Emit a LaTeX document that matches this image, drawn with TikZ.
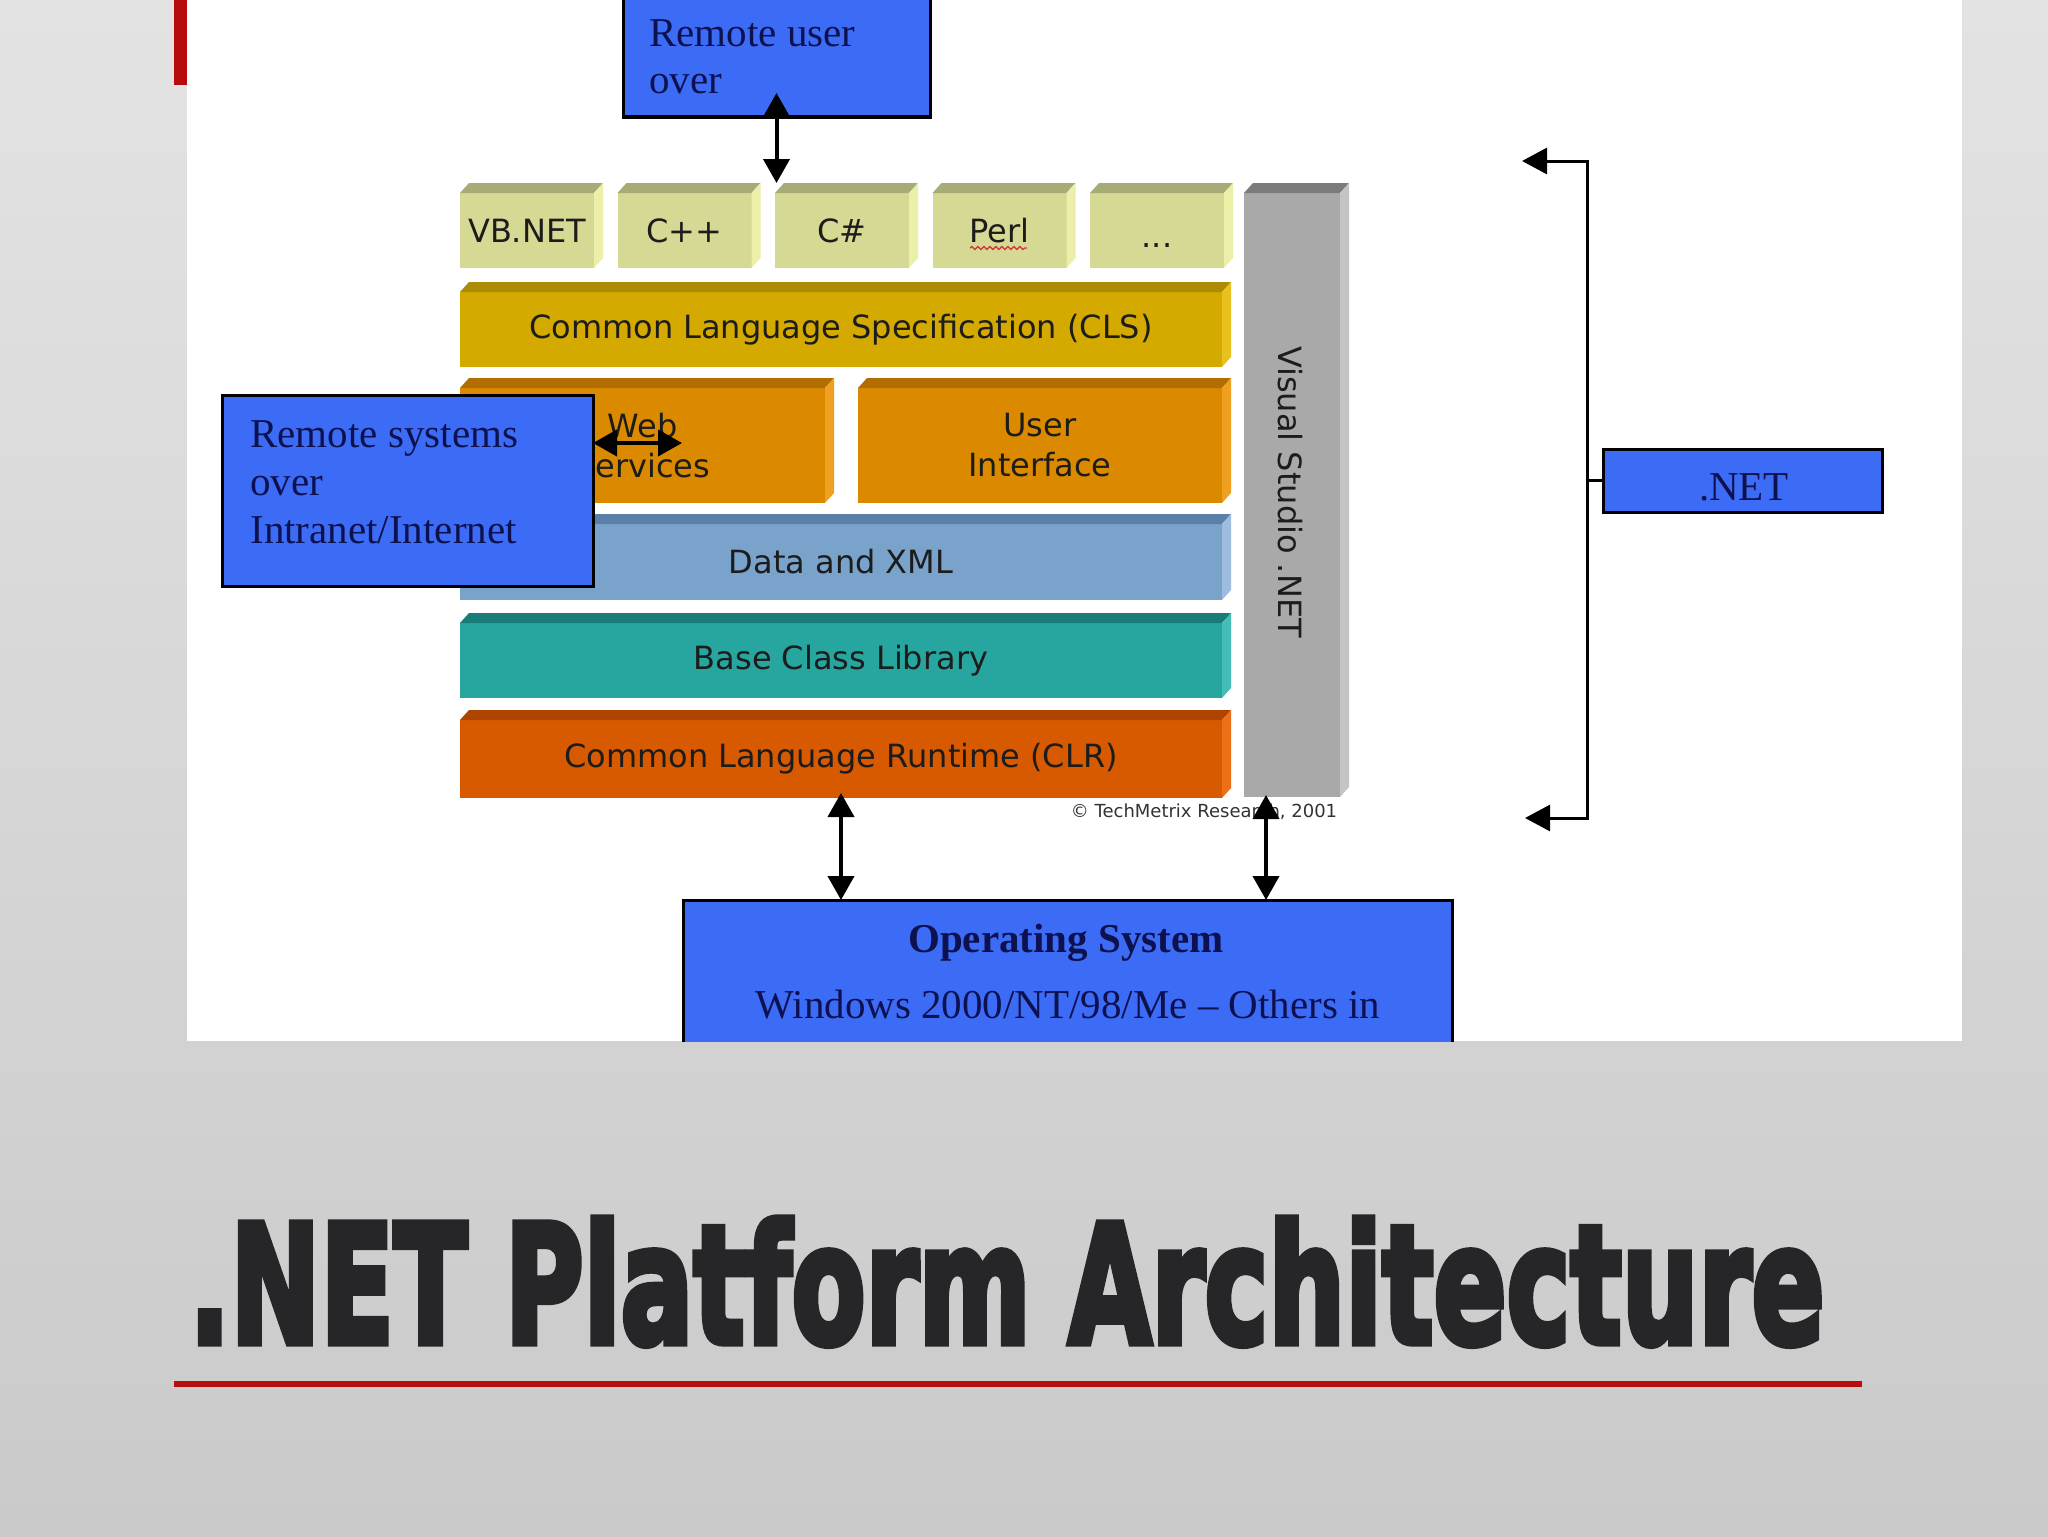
\documentclass[tikz,border=0pt]{standalone}
\usepackage{graphicx}
\usepackage{fontspec}
\setmainfont{Liberation Serif}
\newfontfamily\stackfont{DejaVu Sans}
\newfontfamily\titlefont[FakeBold=4.5]{DejaVu Sans Bold}
\usetikzlibrary{arrows.meta,calc,decorations.pathmorphing}
\definecolor{bgtop}{HTML}{E3E3E3}
\definecolor{bgbot}{HTML}{CACACA}
\definecolor{accentred}{HTML}{B80C0C}
\definecolor{boxblue}{HTML}{3C6CF5}
\definecolor{navytext}{HTML}{0E1150}
\definecolor{stacktext}{HTML}{1C1C1C}
\definecolor{copytext}{HTML}{333333}
\definecolor{titlegray}{HTML}{262628}
\definecolor{langfront}{HTML}{D6D994}
\definecolor{langtop}{HTML}{A7AB76}
\definecolor{langside}{HTML}{ECEFA8}
\definecolor{clsfront}{HTML}{D4A900}
\definecolor{clstop}{HTML}{AE8B06}
\definecolor{clsside}{HTML}{E8C020}
\definecolor{orgfront}{HTML}{DB8A00}
\definecolor{orgtop}{HTML}{B26E00}
\definecolor{orgside}{HTML}{EFA020}
\definecolor{xmlfront}{HTML}{7AA3CC}
\definecolor{xmltop}{HTML}{5A7FA8}
\definecolor{xmlside}{HTML}{9DBCDE}
\definecolor{bclfront}{HTML}{27A6A0}
\definecolor{bcltop}{HTML}{1A7C78}
\definecolor{bclside}{HTML}{45BDB7}
\definecolor{clrfront}{HTML}{D85A00}
\definecolor{clrtop}{HTML}{AE4400}
\definecolor{clrside}{HTML}{EC7018}
\definecolor{vsfront}{HTML}{A9A9A9}
\definecolor{vstop}{HTML}{7C7C7C}
\definecolor{vsside}{HTML}{C4C4C4}
\definecolor{squig}{HTML}{D23C3C}
\newcommand\slabfaces[3]{%
  \fill[#2] (#1.north west) -- ++(9,-10) -- ($(#1.north east)+(9,-10)$) -- (#1.north east) -- cycle;
  \fill[#3] (#1.north east) -- ++(9,-10) -- ($(#1.south east)+(9,-10)$) -- (#1.south east) -- cycle;
}
\tikzset{
  face/.style={rectangle, inner sep=0pt, outer sep=0pt, align=center, text=stacktext,
    font=\stackfont\fontsize{16pt}{20pt}\selectfont},
  langsz/.style={minimum width=67pt, minimum height=37.5pt, text height=11.7pt, text depth=0pt},
  widesz/.style={minimum width=381pt},
  bluebox/.style={rectangle, draw=black, line width=1.5pt, fill=boxblue, inner sep=0pt, outer sep=0pt},
  serifline/.style={inner sep=0pt, text=navytext, font=\fontsize{20.5pt}{24pt}\selectfont},
  dblarrow/.style={line width=2pt, {Triangle[length=12pt,width=13pt]}-{Triangle[length=12pt,width=13pt]}},
  brarrow/.style={line width=1.5pt, -{Triangle[length=12.5pt,width=13pt]}},
}
\begin{document}
\begin{tikzpicture}[x=0.5pt,y=-0.5pt]
\useasboundingbox (0,0) rectangle (2048,1536);
\shade[top color=bgtop,bottom color=bgbot] (0,0) rectangle (2048,1536);
\fill[white] (187,0) rectangle (1962,1041);
\fill[accentred] (174,0) rectangle (187,85);
\fill[accentred] (174,1381) rectangle (1862,1387);
\begin{scope}
\clip (187,0) rectangle (1962,1041);
% language boxes
\node[face, langsz, fill=langfront] (vb) at (527,230.5) {VB.NET};
\node[face, langsz, fill=langfront] (cpp) at (684.5,230.5) {C++};
\node[face, langsz, fill=langfront] (cs) at (842,230.5) {C\#};
\node[face, langsz, fill=langfront] (perl) at (999.5,230.5) {Perl};
\node[face, langsz, fill=langfront, text height=17.2pt] (dots) at (1157,230.5) {...};
\foreach \n in {vb,cpp,cs,perl,dots}{\slabfaces{\n}{langtop}{langside}}
\draw[squig, line width=0.7pt, decorate, decoration={snake, segment length=3pt, amplitude=0.7pt}] (970,248) -- (1027,248);
% layers
\node[face, widesz, minimum height=37.5pt, fill=clsfront] (cls) at (841,329.5) {Common Language Specification (CLS)};
\slabfaces{cls}{clstop}{clsside}
\node[face, minimum width=182.5pt, minimum height=57.5pt, fill=orgfront] (web) at (642.5,445.5) {Web\\Services};
\slabfaces{web}{orgtop}{orgside}
\node[face, minimum width=182pt, minimum height=57.5pt, fill=orgfront] (ui) at (1040,445.5) {User\\Interface};
\slabfaces{ui}{orgtop}{orgside}
\node[face, widesz, minimum height=38pt, fill=xmlfront] (xml) at (841,562) {Data and XML};
\slabfaces{xml}{xmltop}{xmlside}
\node[face, widesz, minimum height=37.5pt, fill=bclfront] (bcl) at (841,660.5) {Base Class Library};
\slabfaces{bcl}{bcltop}{bclside}
\node[face, widesz, minimum height=39pt, fill=clrfront] (clr) at (841,759) {Common Language Runtime (CLR)};
\slabfaces{clr}{clrtop}{clrside}
\node[face, minimum width=48pt, minimum height=302pt, fill=vsfront] (vs) at (1292,495) {};
\slabfaces{vs}{vstop}{vsside}
\node[face, rotate=-90] (vstext) at (1290,492) {Visual Studio .NET};
\node[face, anchor=base, text=copytext, font=\stackfont\fontsize{9pt}{11pt}\selectfont] (copy) at (1204,817) {© TechMetrix Research, 2001};
% blue boxes
\node[bluebox, minimum width=153.5pt, minimum height=63.5pt] (ru) at (776.5,53.5) {};
\node[serifline, anchor=base west] (ru1) at (649,47) {Remote user};
\node[serifline, anchor=base west] (ru2) at (649,94) {over};
\node[bluebox, minimum width=185.5pt, minimum height=95.5pt] (rs) at (407.5,490.5) {};
\node[serifline, anchor=base west] (rs1) at (250,447) {Remote systems};
\node[serifline, anchor=base west] (rs2) at (250,495) {over};
\node[serifline, anchor=base west] (rs3) at (250,543) {Intranet/Internet};
\node[bluebox, minimum width=139.5pt, minimum height=31.5pt] (net) at (1742.5,480.5) {};
\node[serifline, anchor=base] (nettext) at (1744,500) {.NET};
\node[bluebox, minimum width=384.5pt, minimum height=80pt] (os) at (1067.5,980) {};
\node[serifline, anchor=base, font=\bfseries\fontsize{20.5pt}{24pt}\selectfont] (os1) at (1066,952) {Operating System};
\node[serifline, anchor=base] (os2) at (1068,1018) {Windows 2000/NT/98/Me – Others in};
% connectors
\draw[dblarrow] ([yshift=12pt]ru.south) -- ($(ru.south |- cs.north)+(0,-10)$);
\coordinate (wsr) at (682,443);
\draw[dblarrow] (rs.east |- wsr) -- (wsr);
\draw[dblarrow] ([yshift=2.5pt]clr.south) -- (clr.south |- os.north);
\coordinate (osr) at (1266,795);
\draw[dblarrow] (osr) -- (osr |- os.north);
\coordinate (brk) at (1587,480.5);
\coordinate (bt) at (1522,161);
\coordinate (bb) at (1525,818);
\draw[brarrow] (net.west) -- (brk) |- (bt);
\draw[brarrow] (brk) |- (bb);
\end{scope}
\node[anchor=base west, inner sep=0pt, text=titlegray] (title) at (189,1343)
  {\resizebox{817.5pt}{62.5pt}{\titlefont .NET Platform Architecture}};
\end{tikzpicture}
\end{document}
